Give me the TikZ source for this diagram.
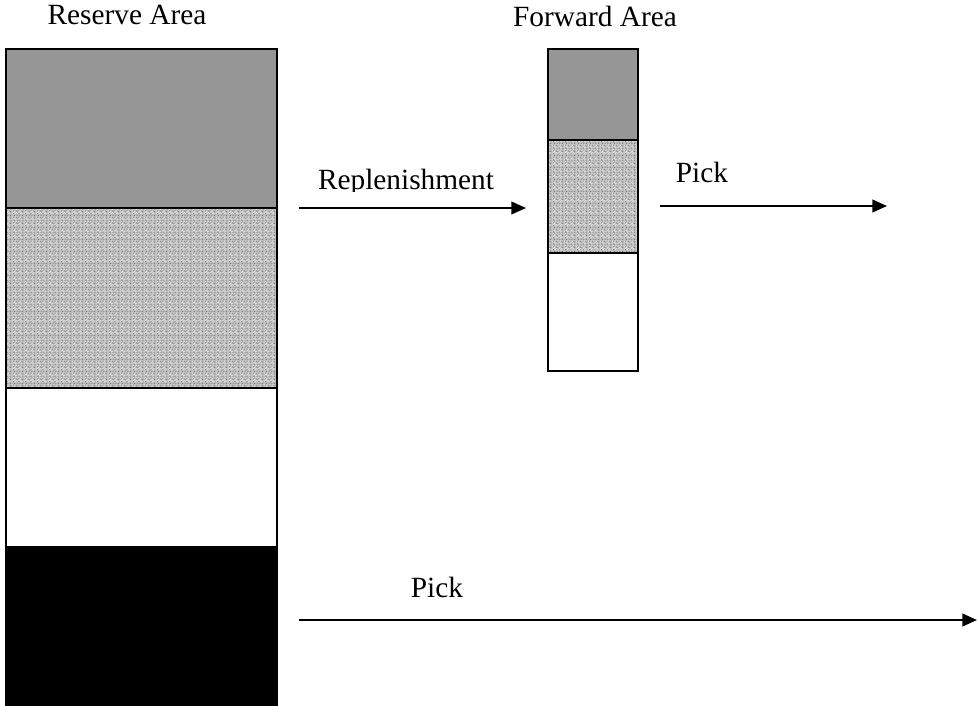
\documentclass[tikz,border=0pt]{standalone}
\usepackage{fontspec}
\setmainfont{Liberation Serif}
\usetikzlibrary{arrows.meta,patterns}

% speckled fill: two sparse pixel layers over a mid-grey base
\pgfdeclarepatternformonly{specklight}{\pgfpointorigin}{\pgfpoint{9pt}{9pt}}{\pgfpoint{9pt}{9pt}}{%
  \foreach \i in {0,...,11}{%
    \foreach \j in {0,...,11}{%
      \pgfmathtruncatemacro\r{mod(\i*7+\j*11+\i*\j*3,3)}%
      \ifnum\r=0
        \pgfpathrectangle{\pgfpoint{\i*0.75pt}{\j*0.75pt}}{\pgfpoint{0.75pt}{0.75pt}}%
      \fi
    }%
  }%
  \pgfusepath{fill}%
}
\pgfdeclarepatternformonly{speckdark}{\pgfpointorigin}{\pgfpoint{9pt}{9pt}}{\pgfpoint{9pt}{9pt}}{%
  \foreach \i in {0,...,11}{%
    \foreach \j in {0,...,11}{%
      \pgfmathtruncatemacro\r{mod(\i*5+\j*3+\i*\j*7+1,6)}%
      \ifnum\r=0
        \pgfpathrectangle{\pgfpoint{\i*0.75pt}{\j*0.75pt}}{\pgfpoint{0.75pt}{0.75pt}}%
      \fi
    }%
  }%
  \pgfusepath{fill}%
}

\definecolor{stockgrey}{HTML}{969696}
\definecolor{speckbase}{HTML}{BEBEBE}

\tikzset{
  binedge/.style={draw=black, line width=1.5pt},
  flow/.style={draw=black, line width=1.5pt, -{Triangle[length=11pt, width=9.5pt]}},
  label/.style={inner sep=0pt, anchor=base, font=\fontsize{22}{26}\selectfont},
}

\newcommand{\speckbox}[2]{%
  \fill[speckbase] #1 rectangle #2;
  \fill[pattern=specklight, pattern color=white!92!black] #1 rectangle #2;
  \fill[pattern=speckdark, pattern color=black!55] #1 rectangle #2;
}

\begin{document}
\begin{tikzpicture}[x=0.75pt, y=-0.75pt]
\useasboundingbox (0,0) rectangle (977,706);

% reserve area column
\fill[stockgrey] (6,49) rectangle (277,208);
\speckbox{(6,208)}{(277,388)}
\fill[black] (6,546) rectangle (277,705);
\draw[binedge] (6,49) rectangle (277,705);
\draw[binedge] (6,208) -- (277,208);
\draw[binedge] (6,388) -- (277,388);

% forward area column
\fill[stockgrey] (548,49) rectangle (638,140);
\speckbox{(548,140)}{(638,253)}
\draw[binedge] (548,49) rectangle (638,371);
\draw[binedge] (548,140) -- (638,140);
\draw[binedge] (548,253) -- (638,253);

% headings
\node[label] (reserve) at (127,25) {Reserve Area};
\node[label] (forward) at (595,27) {Forward Area};

% flow arrows
\coordinate (repS) at (299,208);
\coordinate (repE) at (526,208);
\coordinate (fpS) at (660,206);
\coordinate (fpE) at (887,206);
\coordinate (rpS) at (299,620);
\coordinate (rpE) at (977,620);

\draw[flow] (repS) -- (repE);
\draw[flow] (fpS) -- (fpE);
\draw[flow] (rpS) -- (rpE);

% flow labels
\begin{scope}
  \clip (280,150) rectangle (540,191);
  \node[label] (replen) at (406,190) {Replenishment};
\end{scope}
\node[label] (pickfwd) at (702,182) {Pick};
\node[label] (pickres) at (437,597) {Pick};
\end{tikzpicture}
\end{document}
